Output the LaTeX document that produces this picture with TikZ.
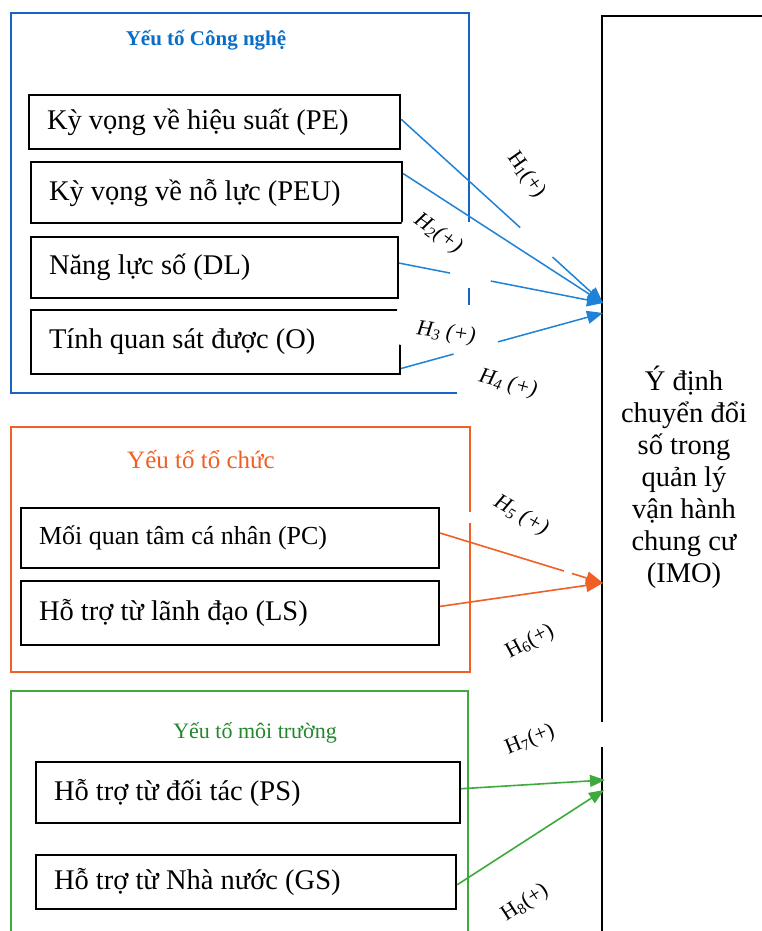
\documentclass[tikz,border=0pt]{standalone}
\usepackage{fontspec}
\setmainfont{Liberation Serif}
\usetikzlibrary{calc,arrows.meta}
\definecolor{bgrp}{RGB}{25,100,195}
\definecolor{btitle}{RGB}{10,110,200}
\definecolor{bline}{RGB}{30,130,215}
\definecolor{ogrp}{RGB}{240,95,35}
\definecolor{ggrp}{RGB}{60,170,60}
\definecolor{gtitle}{RGB}{35,135,45}
\begin{document}
\begin{tikzpicture}[x=1pt,y=-1pt,
  fbox/.style={draw=black, line width=2.2pt, inner xsep=18pt, inner ysep=0pt,
    align=flush left, font=\fontsize{28.5}{32}\selectfont},
  grptitle/.style={font=\fontsize{22}{26}\selectfont, inner sep=0pt},
  hlab/.style={font=\fontsize{22}{25}\selectfont, fill=white, inner sep=3pt},
  grpline/.style={line width=1.6pt},
  bl/.style={draw=bline, line width=1.5pt},
  ol/.style={draw=ogrp, line width=1.6pt},
  gl/.style={draw=ggrp, line width=1.6pt},
  btip/.style={-{Triangle[length=16pt,width=13pt]}},
  otip/.style={-{Triangle[length=17pt,width=13pt]}},
  gtip/.style={-{Triangle[length=15pt,width=12pt]}}
]
\useasboundingbox (0,0) rectangle (762,931);
\clip (0,0) rectangle (762,931);
\fill[white] (0,0) rectangle (762,931);

% ---------- factor boxes ----------
\node[fbox, text width=335pt, minimum height=54pt] (pe)  at (214.5,122)   {Kỳ vọng về hiệu suất (PE)};
\node[fbox, text width=335pt, minimum height=61pt] (peu) at (216.5,192.5) {Kỳ vọng về nỗ lực (PEU)};
\node[fbox, text width=331pt, minimum height=61pt] (dl)  at (214.5,267.5) {Năng lực số (DL)};
\node[fbox, text width=333pt, minimum height=64pt] (o)   at (215.5,342)   {Tính quan sát được (O)};

\node[fbox, text width=382pt, minimum height=60pt, font=\fontsize{26}{30}\selectfont] (pc) at (230,538) {Mối quan tâm cá nhân (PC)};
\node[fbox, text width=382pt, minimum height=64pt] (ls) at (230,613) {Hỗ trợ từ lãnh đạo (LS)};

\node[fbox, text width=388pt, minimum height=61pt] (ps) at (248,792.5) {Hỗ trợ từ đối tác (PS)};
\node[fbox, text width=384pt, minimum height=54pt] (gs) at (246,882)   {Hỗ trợ từ Nhà nước (GS)};

% ---------- dependent variable ----------
\node[align=center, font=\fontsize{28.5}{32}\selectfont, inner sep=0pt] (imo) at (684,477)
  {Ý định\\chuyển đổi\\số trong\\quản lý\\vận hành\\chung cư\\(IMO)};

% ---------- group titles ----------
\node[grptitle, text=btitle, font=\fontsize{21}{26}\bfseries] (tcn) at (206,40)  {Yếu tố Công nghệ};
\node[grptitle, text=ogrp, font=\fontsize{25}{28}\selectfont] (ttc) at (201,460) {Yếu tố tổ chức};
\node[grptitle, text=gtitle] (tmt) at (255,733) {Yếu tố môi trường};

% ---------- hypothesis labels ----------
\node[hlab, rotate=-55] (h1) at (526,175) {H\textsubscript{1}(+)};
\node[hlab, rotate=-36, inner xsep=9pt] (h2) at (438,234) {\itshape H\textsubscript{2}(+)};
\node[hlab, rotate=-8, inner xsep=22pt, inner ysep=8pt] (h3) at (446,333) {\itshape H\textsubscript{3} (+)};
\node[hlab, rotate=-15] (h4) at (508,384) {\itshape H\textsubscript{4} (+)};
\node[hlab, rotate=-30] (h5) at (521,516) {\itshape H\textsubscript{5} (+)};
\node[hlab, rotate=28]  (h6) at (530,642) {H\textsubscript{6}(+)};
\node[hlab, rotate=22]  (h7) at (530,740) {H\textsubscript{7}(+)};
\node[hlab, rotate=33]  (h8) at (525,903) {H\textsubscript{8}(+)};

% ---------- group frames ----------
\draw[bgrp, grpline] (469,222) -- (469,13) -- (11,13) -- (11,393) -- (457,393);
\draw[bgrp, grpline] (469,288) -- (469,305);
\draw[ogrp, grpline] (470,512) -- (470,427) -- (11,427) -- (11,672) -- (470,672) -- (470,523);
\draw[ggrp, grpline] (11,945) -- (11,691) -- (468,691) -- (468,945);
\draw[black, line width=2.2pt] (602,722) -- (602,16) -- (780,16);
\draw[black, line width=2.2pt] (602,747) -- (602,945);

% ---------- arrow ends ----------
\coordinate (tA) at (603,303);
\coordinate (tB) at (603,313);
\coordinate (tC) at (603,583);
\coordinate (tD) at (605,780);
\coordinate (tE) at (604,790);

\coordinate (sPE)  at ($(pe.north east)!0.45!(pe.south east)$);
\coordinate (sPEU) at ($(peu.north east)!0.2!(peu.south east)$);
\coordinate (sDL)  at ($(dl.north east)!0.43!(dl.south east)$);
\coordinate (sO)   at ($(o.north east)!0.9!(o.south east)$);
\coordinate (sPC)  at ($(pc.north east)!0.42!(pc.south east)$);
\coordinate (sLS)  at ($(ls.north east)!0.4!(ls.south east)$);
\coordinate (sPS)  at ($(ps.north east)!0.44!(ps.south east)$);
\coordinate (sGS)  at ($(gs.north east)!0.55!(gs.south east)$);

% ---------- connectors ----------
\draw[bl] (sPE) -- ($(sPE)!0.59!(tA)$);
\draw[bl, btip] ($(sPE)!0.75!(tA)$) -- (tA);
\draw[bl, btip] (sPEU) -- (tA);
\draw[bl] (sDL) -- ($(sDL)!0.25!(tA)$);
\draw[bl, btip] ($(sDL)!0.45!(tA)$) -- (tA);
\draw[bl] (sO) -- ($(sO)!0.26!(tB)$);
\draw[bl, btip] ($(sO)!0.48!(tB)$) -- (tB);

\draw[ol] (sPC) -- ($(sPC)!0.76!(tC)$);
\draw[ol, otip] ($(sPC)!0.81!(tC)$) -- (tC);
\draw[ol, otip] (sLS) -- (tC);

\draw[gl, gtip] (sPS) -- (tD);
\draw[gl, gtip] (sGS) -- (tE);
\end{tikzpicture}
\end{document}
